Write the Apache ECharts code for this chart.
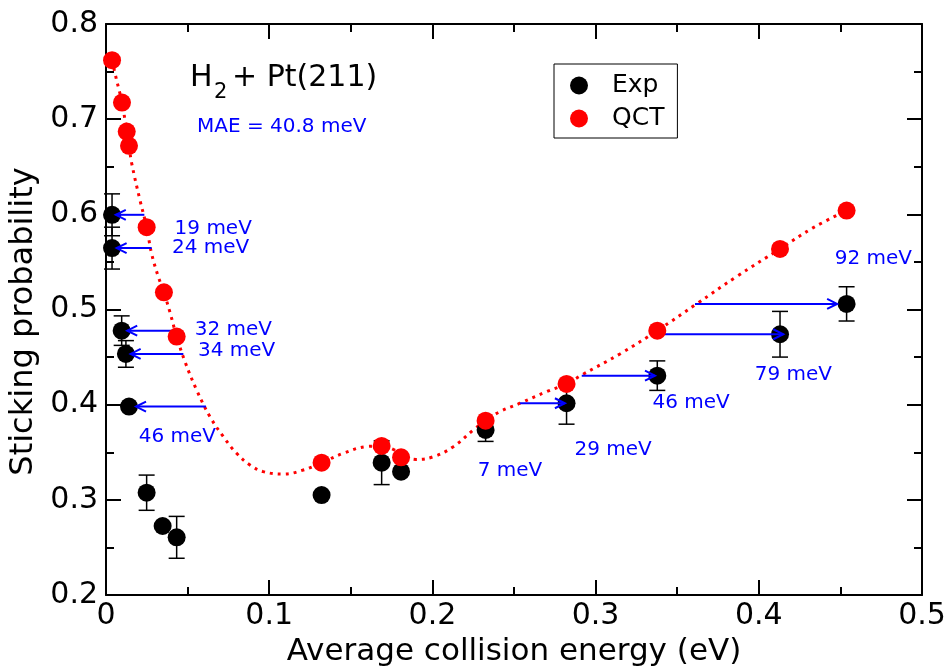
<!DOCTYPE html>
<html>
<head>
<meta charset="utf-8">
<script src="https://cdn.jsdelivr.net/npm/echarts@6/dist/echarts.min.js"></script>
<style>
html,body{margin:0;padding:0;background:#fff;}
#main{width:948px;height:666px;}
</style>
</head>
<body>
<div id="main"></div>
<script>
// ---- data ----
const xTickLabels = ['0', '0.1', '0.2', '0.3', '0.4', '0.5'];
const yTickLabels = ['0.2', '0.3', '0.4', '0.5', '0.6', '0.7', '0.8'];

const expX = [0.0037, 0.0037, 0.0096, 0.0122, 0.0141, 0.0249, 0.0347, 0.0433, 0.1321, 0.1689, 0.1808, 0.2326, 0.2822, 0.3378, 0.4130, 0.4538];
const expY = [0.5995, 0.5645, 0.4778, 0.4533, 0.3980, 0.3075, 0.2725, 0.2606, 0.3050, 0.3390, 0.3296, 0.3734, 0.4015, 0.4305, 0.4740, 0.5059];
const expErr = [0.022, 0.022, 0.0155, 0.014, 0, 0.0185, 0, 0.022, 0, 0.023, 0, 0.012, 0.022, 0.0155, 0.024, 0.018];

const qctX = [0.0037, 0.0098, 0.0127, 0.0141, 0.0249, 0.0355, 0.0433, 0.1321, 0.1689, 0.1808, 0.2326, 0.2822, 0.3378, 0.4130, 0.4538];
const qctY = [0.762, 0.7175, 0.687, 0.672, 0.5865, 0.518, 0.4715, 0.339, 0.3566, 0.3447, 0.3832, 0.4218, 0.4778, 0.5637, 0.604];

// dotted fit curve
const fitX = [0.0037, 0.0065, 0.0098, 0.0127, 0.0141, 0.0157, 0.0208, 0.0249, 0.0279, 0.0320, 0.0355, 0.0392, 0.0433, 0.0484, 0.0555, 0.0637, 0.0719, 0.0800, 0.0882, 0.0964, 0.1086, 0.1209, 0.1321, 0.1454, 0.1597, 0.1689, 0.1760, 0.1830, 0.1900, 0.2006, 0.2128, 0.2251, 0.2326, 0.2414, 0.2537, 0.2700, 0.2822, 0.2915, 0.3149, 0.3378, 0.3620, 0.3864, 0.4130, 0.4334, 0.4538];
const fitY = [0.762, 0.741, 0.7175, 0.687, 0.672, 0.654, 0.615, 0.5865, 0.559, 0.5346, 0.518, 0.497, 0.4715, 0.4452, 0.4155, 0.3874, 0.3664, 0.3489, 0.3366, 0.3296, 0.3271, 0.3313, 0.339, 0.3489, 0.3560, 0.3566, 0.3530, 0.3460, 0.3425, 0.3453, 0.3558, 0.3734, 0.3832, 0.3927, 0.4015, 0.4137, 0.4218, 0.4312, 0.4533, 0.4778, 0.5060, 0.5346, 0.5637, 0.586, 0.604];

// arrows: from the QCT curve to the experimental point
const arrowFrom = [0.0235, 0.0280, 0.0429, 0.0474, 0.0613, 0.2537, 0.2915, 0.3343, 0.3609];
const arrowTo   = [0.0060, 0.0065, 0.0130, 0.0151, 0.0184, 0.2812, 0.3364, 0.4150, 0.4480];
const arrowY    = [0.5995, 0.5645, 0.4778, 0.4533, 0.3980, 0.4015, 0.4305, 0.4740, 0.5059];

// energy-shift annotations
const annText = ['19 meV', '24 meV', '32 meV', '34 meV', '46 meV', '7 meV', '29 meV', '46 meV', '79 meV', '92 meV'];
const annX = [0.0657, 0.0641, 0.0780, 0.0800, 0.0437, 0.2475, 0.3107, 0.3585, 0.4212, 0.4702];
const annY = [0.5844, 0.5645, 0.4790, 0.4568, 0.3664, 0.3306, 0.3530, 0.4021, 0.4312, 0.5529];

const titleMain = 'H';
const titleSub = '2';
const titleRest = '+ Pt(211)';
const maeText = 'MAE = 40.8 meV';

// ---- build ----
const FONT = '"DejaVu Sans", "Liberation Sans", Arial, sans-serif';
const expData = expX.map((x, i) => [x, expY[i]]);
const qctData = qctX.map((x, i) => [x, qctY[i]]);
const fitData = fitX.map((x, i) => [x, fitY[i]]);
const errData = expX.map((x, i) => [x, expY[i] - expErr[i], expY[i] + expErr[i], expErr[i]]);
const arrowData = arrowY.map((y, i) => [arrowFrom[i], arrowTo[i], y]);
const annData = annX.map((x, i) => [x, annY[i]]);

const chart = echarts.init(document.getElementById('main'), null, {renderer: 'canvas'});

// major axis: line + long inward ticks
function majorAxis(extra) {
  return Object.assign({
    type: 'value',
    axisLine: {show: true, onZero: false, lineStyle: {color: '#000', width: 2}},
    axisTick: {show: true, inside: true, length: 15, lineStyle: {color: '#000', width: 2}},
    splitLine: {show: false}
  }, extra);
}
// minor tick axis: only short inward ticks every half interval
function minorAxis(extra) {
  return Object.assign({
    type: 'value',
    axisLine: {show: false, onZero: false},
    axisTick: {show: true, inside: true, length: 8, lineStyle: {color: '#000', width: 2}},
    axisLabel: {show: false},
    splitLine: {show: false}
  }, extra);
}

const option = {
  backgroundColor: '#fff',
  animation: false,
  grid: {left: 106, right: 26, top: 24, bottom: 71, containLabel: false, outerBoundsMode: 'none'},
  legend: {
    data: ['Exp', 'QCT'],
    orient: 'vertical',
    left: 554, top: 64,
    padding: [9, 13, 7, 16],
    itemWidth: 18, itemHeight: 18, itemGap: 8,
    icon: 'circle',
    borderColor: '#000', borderWidth: 1,
    textStyle: {fontFamily: FONT, fontSize: 25, color: '#000', padding: [0, 0, 0, 19]}
  },
  xAxis: [
    majorAxis({
      min: 0, max: 0.5, interval: 0.1, position: 'bottom',
      name: 'Average collision energy (eV)', nameLocation: 'middle', nameGap: 41,
      nameTextStyle: {fontFamily: FONT, fontSize: 31, color: '#000'},
      axisLabel: {fontFamily: FONT, fontSize: 30, color: '#000', margin: 6,
        formatter: v => xTickLabels[Math.round(v / 0.1)]}
    }),
    majorAxis({min: 0, max: 0.5, interval: 0.1, position: 'top', axisLabel: {show: false}}),
    minorAxis({min: 0, max: 0.5, interval: 0.05, position: 'bottom'}),
    minorAxis({min: 0, max: 0.5, interval: 0.05, position: 'top'})
  ],
  yAxis: [
    majorAxis({
      min: 0.2, max: 0.8, interval: 0.1, position: 'left',
      name: 'Sticking probability', nameLocation: 'middle', nameGap: 66,
      nameTextStyle: {fontFamily: FONT, fontSize: 32, color: '#000', padding: [0, 24, 0, 0]},
      axisLabel: {fontFamily: FONT, fontSize: 30, color: '#000', margin: 8,
        formatter: v => yTickLabels[Math.round((v - 0.2) / 0.1)]}
    }),
    majorAxis({min: 0.2, max: 0.8, interval: 0.1, position: 'right', axisLabel: {show: false}}),
    minorAxis({min: 0.2, max: 0.8, interval: 0.05, position: 'left'}),
    minorAxis({min: 0.2, max: 0.8, interval: 0.05, position: 'right'})
  ],
  graphic: [
    {type: 'text', left: 190, top: 63, style: {text: titleMain, font: '30px ' + FONT, fill: '#000'}},
    {type: 'text', left: 214, top: 82, style: {text: titleSub, font: '21px ' + FONT, fill: '#000'}},
    {type: 'text', left: 232, top: 63, style: {text: titleRest, font: '30px ' + FONT, fill: '#000'}},
    {type: 'text', left: 197, top: 117, style: {text: maeText, font: '20px ' + FONT, fill: '#0000ff'}}
  ],
  series: [
    {
      name: 'fit', type: 'line', data: fitData, smooth: 0.4, showSymbol: false, z: 1,
      silent: true,
      lineStyle: {color: '#ff0000', width: 3, type: [3, 5], cap: 'butt'}
    },
    {
      name: 'err', type: 'custom', data: errData, z: 2, silent: true,
      renderItem: function (params, api) {
        if (api.value(3) <= 0) return null;
        const x = api.value(0);
        const lo = api.coord([x, api.value(1)]);
        const hi = api.coord([x, api.value(2)]);
        const w = 8;
        const st = {stroke: '#000', lineWidth: 1.5};
        return {type: 'group', children: [
          {type: 'line', shape: {x1: lo[0], y1: lo[1], x2: hi[0], y2: hi[1]}, style: st},
          {type: 'line', shape: {x1: lo[0] - w, y1: lo[1], x2: lo[0] + w, y2: lo[1]}, style: st},
          {type: 'line', shape: {x1: hi[0] - w, y1: hi[1], x2: hi[0] + w, y2: hi[1]}, style: st}
        ]};
      }
    },
    {
      name: 'Exp', type: 'scatter', data: expData, symbol: 'circle', symbolSize: 18, z: 3,
      itemStyle: {color: '#000', opacity: 1}
    },
    {
      name: 'arrows', type: 'custom', data: arrowData, z: 4, silent: true,
      renderItem: function (params, api) {
        const y = api.value(2);
        const p1 = api.coord([api.value(0), y]);
        const p2 = api.coord([api.value(1), y]);
        const dir = p2[0] > p1[0] ? 1 : -1;
        const st = {stroke: '#0000ff', lineWidth: 2, fill: null};
        return {type: 'group', children: [
          {type: 'line', shape: {x1: p1[0], y1: p1[1], x2: p2[0], y2: p2[1]}, style: st},
          {type: 'polyline', shape: {points: [[p2[0] - dir * 10, p2[1] - 5], [p2[0], p2[1]], [p2[0] - dir * 10, p2[1] + 5]]}, style: st}
        ]};
      }
    },
    {
      name: 'QCT', type: 'scatter', data: qctData, symbol: 'circle', symbolSize: 18, z: 5,
      itemStyle: {color: '#ff0000', opacity: 1}
    },
    {
      name: 'labels', type: 'custom', data: annData, z: 6, silent: true,
      renderItem: function (params, api) {
        const p = api.coord([api.value(0), api.value(1)]);
        return {type: 'text', x: p[0], y: p[1], style: {
          text: annText[params.dataIndex], font: '20px ' + FONT, fill: '#0000ff',
          align: 'center', verticalAlign: 'middle'}};
      }
    }
  ]
};
chart.setOption(option);
</script>
</body>
</html>
